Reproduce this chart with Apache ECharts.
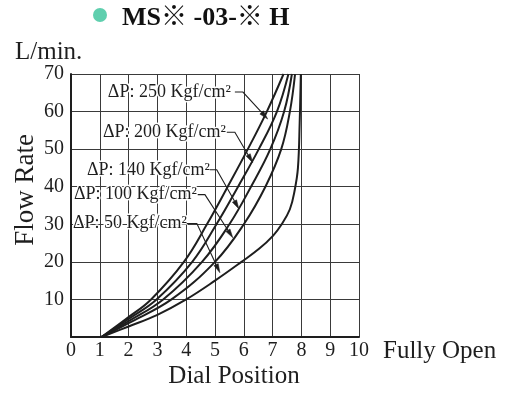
<!DOCTYPE html>
<html><head><meta charset="utf-8">
<script src="https://cdn.jsdelivr.net/npm/echarts@6/dist/echarts.min.js"></script>
<style>html,body{margin:0;padding:0;background:#fff}#c{width:514px;height:394px}</style>
</head><body><div id="c"></div>
<script>
// ---- data ----
const titleText = 'MS※ -03-※ H';
const xTicks = [0, 1, 2, 3, 4, 5, 6, 7, 8, 9, 10];
const yTicks = [0, 10, 20, 30, 40, 50, 60, 70];
const curveNames = ['ΔP: 250 Kgf/cm²', 'ΔP: 200 Kgf/cm²', 'ΔP: 140 Kgf/cm²', 'ΔP: 100 Kgf/cm²', 'ΔP: 50 Kgf/cm²'];

const dial250 = [1.06, 2.0, 2.78, 3.92, 4.72, 5.44, 6.14, 6.8, 7.38];
const flow250 = [0, 5.3, 10, 20, 30, 40, 50, 60, 70];
const dial200 = [1.06, 2.0, 2.97, 4.21, 5.05, 5.8, 6.52, 7.15, 7.55];
const flow200 = [0, 4.8, 10, 20, 30, 40, 50, 60, 70];
const dial140 = [1.06, 2.0, 3.2, 4.55, 5.5, 6.25, 6.92, 7.4, 7.67];
const flow140 = [0, 4.2, 10, 20, 30, 40, 50, 60, 70];
const dial100 = [1.06, 2.0, 3.49, 5.0, 6.0, 6.75, 7.3, 7.6, 7.78];
const flow100 = [0, 3.7, 10, 20, 30, 40, 50, 60, 70];
const dial50 = [1.06, 2.0, 3.0, 4.0, 5.0, 5.92, 6.55, 7.02, 7.28, 7.6, 7.77, 7.88, 7.94, 7.98];
const flow50 = [0, 2.8, 5.9, 10, 15.0, 20, 23.6, 27.0, 29.6, 34.0, 39.2, 45.0, 57.0, 70];

// annotation anchors (data units)
const labelX = [1.28, 1.11, 0.555, 0.10, 0.07];
const labelY = [65.2, 54.5, 44.5, 37.9, 30.2];
const leaderStartX = [5.69, 5.41, 4.82, 4.40, 4.02];
const elbowX = [5.97, 5.69, 5.06, 4.65, 4.37];
const tipX = [6.83, 6.31, 5.83, 5.62, 5.17];
const tipY = [58.0, 46.4, 34.1, 26.4, 17.1];

// ---- chart ----
const SERIF = '"Liberation Serif","Times New Roman",serif';
const ink = '#1e1e1e';
const zip = (a, b) => a.map((v, i) => [v, b[i]]);
const curves = [[dial250, flow250], [dial200, flow200], [dial140, flow140], [dial100, flow100], [dial50, flow50]];

const chart = echarts.init(document.getElementById('c'), null, {renderer: 'canvas'});

const lineSeries = curves.map((c, i) => ({
  name: curveNames[i],
  type: 'line',
  data: zip(c[0], c[1]),
  smooth: 0.4,
  showSymbol: false,
  symbol: 'none',
  lineStyle: {color: ink, width: 2},
  clip: true,
  z: 3
}));

const annData = labelX.map((v, i) => [v, labelY[i], leaderStartX[i], elbowX[i], tipX[i], tipY[i]]);

const annSeries = {
  type: 'custom',
  coordinateSystem: 'cartesian2d',
  clip: false,
  z: 5,
  encode: {x: [0, 2, 3, 4], y: [1, 5]},
  data: annData,
  renderItem: function (params, api) {
    const i = params.dataIndex;
    const p0 = api.coord([api.value(0), api.value(1)]);
    const s = api.coord([api.value(2), api.value(1)]);
    const e = api.coord([api.value(3), api.value(1)]);
    const t = api.coord([api.value(4), api.value(5)]);
    let dx = t[0] - e[0], dy = t[1] - e[1];
    const L = Math.sqrt(dx * dx + dy * dy);
    dx /= L; dy /= L;
    const len = 9, w = 2.4;
    const b = [t[0] - dx * len, t[1] - dy * len];
    const nx = -dy, ny = dx;
    return {
      type: 'group',
      children: [
        {type: 'text', style: {text: curveNames[i], x: p0[0], y: p0[1], align: 'left', verticalAlign: 'middle',
          font: '18px ' + SERIF, fill: ink, stroke: '#fff', lineWidth: 3}},
        {type: 'polyline', shape: {points: [s, e, b]}, style: {stroke: ink, lineWidth: 1.1, fill: null}},
        {type: 'polygon', shape: {points: [t, [b[0] + nx * w, b[1] + ny * w], [b[0] - nx * w, b[1] - ny * w]]},
          style: {fill: ink, stroke: ink, lineWidth: 0.5}}
      ]
    };
  }
};

chart.setOption({
  animation: false,
  backgroundColor: '#fff',
  grid: {left: 71, right: 155, top: 74, bottom: 57, containLabel: false},
  xAxis: {
    type: 'value', min: xTicks[0], max: xTicks[xTicks.length - 1], interval: 1,
    axisLine: {show: true, lineStyle: {color: ink, width: 2}},
    axisTick: {show: false},
    axisLabel: {color: ink, fontFamily: SERIF, fontSize: 20, margin: 4, showMaxLabel: true, showMinLabel: true},
    splitLine: {show: true, lineStyle: {color: '#3a3a3a', width: 1}},
    name: 'Fully Open', nameLocation: 'end', nameGap: 24,
    nameTextStyle: {color: ink, fontFamily: SERIF, fontSize: 25, verticalAlign: 'top', padding: [2, 0, 0, 0]}
  },
  yAxis: {
    type: 'value', min: yTicks[0], max: yTicks[yTicks.length - 1], interval: 10,
    axisLine: {show: true, lineStyle: {color: ink, width: 2}},
    axisTick: {show: false},
    axisLabel: {color: ink, fontFamily: SERIF, fontSize: 20, margin: 7,
      formatter: v => (v === 0 ? '' : String(v))},
    splitLine: {show: true, lineStyle: {color: '#3a3a3a', width: 1}}
  },
  graphic: [
    {type: 'circle', shape: {cx: 100, cy: 15, r: 7}, style: {fill: '#5fcfae'}},
    {type: 'text', x: 122, y: 18, style: {text: titleText, font: 'bold 26px ' + SERIF + ',"Noto Sans CJK JP"', fill: '#111', verticalAlign: 'middle'}},
    {type: 'text', x: 15, y: 52, style: {text: 'L/min.', font: '25px ' + SERIF, fill: ink, verticalAlign: 'middle'}},
    {type: 'text', x: 26, y: 190, rotation: Math.PI / 2, style: {text: 'Flow Rate', font: '27px ' + SERIF, fill: ink, align: 'center', verticalAlign: 'middle'}},
    {type: 'text', x: 234, y: 376, style: {text: 'Dial Position', font: '25px ' + SERIF, fill: ink, align: 'center', verticalAlign: 'middle'}}
  ],
  series: lineSeries.concat([annSeries])
});
</script>
</body></html>
